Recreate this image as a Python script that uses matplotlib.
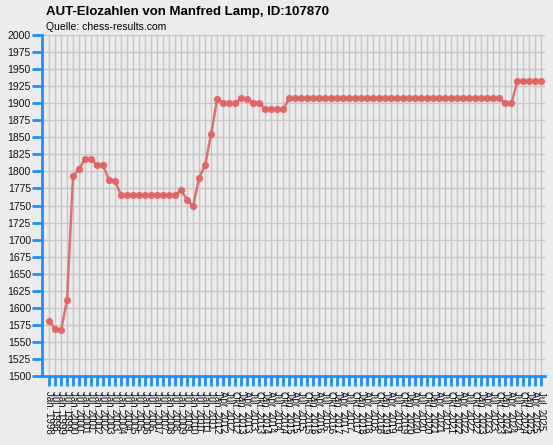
import matplotlib
matplotlib.use("Agg")
import matplotlib.pyplot as plt

plt.rcParams['font.family'] = ['Liberation Sans', 'DejaVu Sans']

# rating lists: half-yearly until 2011, quarterly from 2012
months_half = ["Jan.", "Jul."]
months_quarter = ["Jan.", "Apr.", "Jul.", "Okt."]
dates = [f"{m} {y}" for y in range(1998, 2012) for m in months_half]
dates += [f"{m} {y}" for y in range(2012, 2026) for m in months_quarter][:55]

elo = [1581, 1569, 1567, 1611, 1793, 1804, 1818, 1818, 1809, 1809,
       1787, 1786, 1765, 1765, 1765, 1765, 1765, 1765, 1765, 1765,
       1765, 1765, 1773, 1758, 1749, 1791, 1809, 1855, 1906, 1900,
       1900, 1900, 1907, 1906, 1901, 1901, 1891, 1891, 1891, 1891]
elo += [1907] * 36
elo += [1900, 1900]
elo += [1932] * 5

bg = '#ececec'
blue = '#1e8fff'
red = '#df6464'

fig = plt.figure(figsize=(5.53, 4.45), dpi=100, facecolor=bg)
ax = fig.add_axes([42/553, 69/445, 503/553, 341/445], facecolor=bg)

x = list(range(len(elo)))
ax.plot(x, elo, color=red, lw=1.8, marker='o', ms=4.2, alpha=0.9, zorder=3)

ax.set_xlim(-1.17, 82.6)
ax.set_ylim(1500, 2000)
ax.set_yticks(range(1500, 2001, 25))
ax.set_xticks(x)
ax.set_xticklabels(dates, rotation=-90, fontsize=7, va='top', ha='center')
ax.tick_params(axis='y', colors=blue, length=7, width=2, labelsize=7.5,
               labelcolor='#111111', pad=1)
ax.tick_params(axis='x', colors=blue, length=7, width=2,
               labelcolor='#111111', pad=4)

ax.grid(True, color='#c6c6c6', lw=1)
ax.set_axisbelow(True)
for s in ['top', 'right']:
    ax.spines[s].set_visible(False)
ax.spines['left'].set_color(blue)
ax.spines['left'].set_linewidth(2)
ax.spines['bottom'].set_color(blue)
ax.spines['bottom'].set_linewidth(2)

fig.text(46/553, 1 - 12/445, "AUT-Elozahlen von Manfred Lamp, ID:107870",
         fontsize=9.5, fontweight='bold', va='center', ha='left')
fig.text(46/553, 1 - 27/445, "Quelle: chess-results.com",
         fontsize=7.5, va='center', ha='left')

fig.savefig("out.png", dpi=100, facecolor=bg)
